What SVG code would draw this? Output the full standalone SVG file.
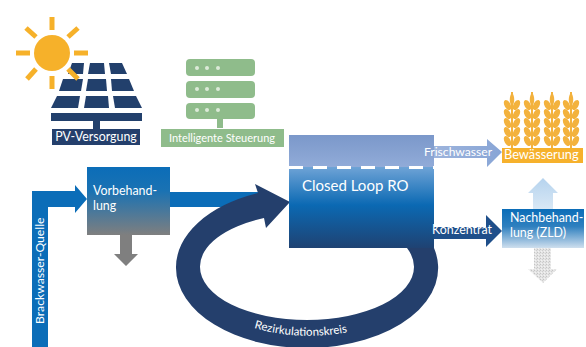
<svg xmlns="http://www.w3.org/2000/svg" xmlns:xlink="http://www.w3.org/1999/xlink" width="586" height="347" viewBox="0 0 586 347">
<style>
text{font-family:"Lato","Open Sans","Liberation Sans",sans-serif;fill:#fff}
.t{font-size:12.400px}
.m{font-size:12.400px}
.l{font-size:15px}
.navy{fill:#243f6c}
.sun{fill:#f6b12c}
.ray{stroke:#f6b12c;stroke-width:5;fill:none}
.grn{fill:#8fbc8b}
.dot{fill:#dcead9}
.wheat{fill:#f3b23e}
</style>
<defs>
<filter id="soft" x="-5%" y="-5%" width="110%" height="110%"><feGaussianBlur stdDeviation="0.6"/></filter>
<linearGradient id="gRO" x1="0" y1="0" x2="0" y2="1">
<stop offset="0" stop-color="#7b98ca"/><stop offset="0.28" stop-color="#91abd8"/><stop offset="0.285" stop-color="#6ea3d6"/><stop offset="0.62" stop-color="#0b69b3"/><stop offset="1" stop-color="#1f4272"/>
</linearGradient>
<linearGradient id="gVor" x1="0" y1="0" x2="0" y2="1">
<stop offset="0" stop-color="#0b6db8"/><stop offset="0.35" stop-color="#1a72b3"/><stop offset="1" stop-color="#7f7f7f"/>
</linearGradient>
<linearGradient id="gNach" x1="0" y1="0" x2="0" y2="1">
<stop offset="0" stop-color="#0b6db8"/><stop offset="0.45" stop-color="#2f80bf"/><stop offset="1" stop-color="#cfdfee"/>
</linearGradient>
<linearGradient id="gFrisch" x1="0" y1="0" x2="1" y2="0">
<stop offset="0" stop-color="#9db4dc"/><stop offset="1" stop-color="#88a5d6"/>
</linearGradient>
<linearGradient id="gUp" x1="0" y1="0" x2="0" y2="1">
<stop offset="0" stop-color="#b5d3ee"/><stop offset="1" stop-color="#d9e8f5"/>
</linearGradient>
<pattern id="speck" width="3" height="3" patternUnits="userSpaceOnUse">
<rect width="3" height="3" fill="#e4e4e4"/><rect x="0" y="0" width="1" height="1" fill="#c4c4c4"/><rect x="2" y="1" width="1" height="1" fill="#cfcfcf"/><rect x="1" y="2" width="1" height="1" fill="#f2f2f2"/>
</pattern>
<g id="stalk">
<path d="M0 0V56" stroke="#f3b23e" stroke-width="2" fill="none"/>
<path class="wheat" d="M0 0C3 5 3 10 0 15C-3 10 -3 5 0 0Z"/>
<g id="pair"><ellipse class="wheat" cx="-4.500" cy="13" rx="3" ry="5.500" transform="rotate(-28 -4.500 13)"/><ellipse class="wheat" cx="4.500" cy="13" rx="3" ry="5.500" transform="rotate(28 4.500 13)"/></g>
<use xlink:href="#pair" href="#pair" y="9"/>
<use xlink:href="#pair" href="#pair" y="18"/>
<use xlink:href="#pair" href="#pair" y="27"/>
<use xlink:href="#pair" href="#pair" y="36"/>
</g>
</defs>
<rect width="586" height="347" fill="#fff"/>

<g id="pv-versorgung">
<g filter="url(#soft)">
<g class="navy">
<polygon points="72,63 84,63 83,74 68,74"/><polygon points="90,63 104,63 105,74 88,74"/><polygon points="109,63 122,63 127,74 111,74"/>
<polygon points="63,79 83,79 81,91 59,91"/><polygon points="88,79 106,79 107,91 86,91"/><polygon points="111,79 129,79 134,91 112,91"/>
<polygon points="57,96 80,96 78,108 51,108"/><polygon points="86,96 108,96 109,108 84,108"/><polygon points="113,96 136,96 142,108 115,108"/>
<rect x="51" y="113" width="91" height="8"/><rect x="93" y="121" width="7" height="9"/>
</g>
<circle class="sun" cx="52" cy="53" r="18"/>
<path class="ray" d="M52 17V30M52 76V89M16 53H30M74 53H88M26 28L36 37M78 28L68 37M27 79L36 69M68 69L78 79"/>
</g>
<rect class="navy" x="52" y="129" width="88" height="16"/>
<text class="t" x="96" y="141" text-anchor="middle">PV-Versorgung</text>
</g>

<g id="intelligente-steuerung">
<g filter="url(#soft)" class="grn">
<rect x="186" y="59" width="69" height="17" rx="4"/><rect x="186" y="81" width="69" height="17" rx="4"/><rect x="186" y="103" width="69" height="16" rx="4"/>
<rect x="217" y="119" width="6" height="9"/>
<g class="dot"><circle cx="197" cy="68" r="2"/><circle cx="207" cy="68" r="2"/><circle cx="218" cy="68" r="2"/><circle cx="197" cy="89" r="2"/><circle cx="207" cy="89" r="2"/><circle cx="218" cy="89" r="2"/><circle cx="197" cy="110" r="2"/><circle cx="207" cy="110" r="2"/><circle cx="218" cy="110" r="2"/></g>
</g>
<rect class="grn" x="161" y="129" width="123" height="18"/>
<text class="t" x="222" y="142" text-anchor="middle" style="font-size:11px">Intelligente Steuerung</text>
</g>

<g id="connectors">
<path id="brackwasser" fill="#0b6db8" d="M32 347V191H75V185L87 199L75 213V207H48V347Z"/>
<path id="zulauf" fill="#0b6db8" d="M170 192H270V207H170Z"/>
<path id="vor-ablauf" fill="#7f7f7f" d="M120 235H132V254H138L126 266L114 254H120Z"/>
<path id="rezirkulation" class="navy" d="M434 248A131 80 0 0 1 307 348A131 80 0 0 1 176 268A131 80 0 0 1 258 193L255 184L290 202L266 228L264 218A107 53 0 0 0 200 267A107 53 0 0 0 307 320A107 53 0 0 0 414 267A107 53 0 0 0 407 248Z"/>
<path id="frischwasser" fill="url(#gFrisch)" d="M434 146H487V139L502 152L487 167V158H434Z"/>
<path id="konzentrat" fill="#1f4f8a" d="M434 227H486V215L502 231L486 247V239H434Z"/>
<path id="nach-oben" fill="url(#gUp)" d="M533 209V193H528L543 178L558 193H553V209Z"/>
<path id="nach-unten" fill="url(#speck)" d="M534 248H551V269H557L543 283L528 269H534Z"/>
</g>

<g id="vorbehandlung">
<rect x="87" y="167" width="83" height="68" fill="url(#gVor)"/>
<text class="m" x="93" y="195">Vorbehand-</text>
<text class="m" x="93" y="210">lung</text>
</g>

<g id="closed-loop-ro">
<rect x="289" y="135" width="145" height="113" fill="url(#gRO)"/>
<path d="M289 167.500H434" stroke="#fff" stroke-width="3" stroke-dasharray="14 10" fill="none"/>
<text class="l" x="302" y="191">Closed Loop RO</text>
</g>

<g id="bewaesserung">
<g filter="url(#soft)">
<use xlink:href="#stalk" href="#stalk" x="512" y="92"/><use xlink:href="#stalk" href="#stalk" x="532" y="92"/><use xlink:href="#stalk" href="#stalk" x="552" y="92"/><use xlink:href="#stalk" href="#stalk" x="571" y="92"/>
</g>
<rect x="502" y="148" width="81" height="15" fill="#f6b12c"/>
<text class="t" x="504" y="158.500" style="font-size:12.800px">Bewässerung</text>
</g>

<g id="nachbehandlung">
<rect x="502" y="209" width="82" height="39" fill="url(#gNach)"/>
<text class="m" x="510" y="222">Nachbehand-</text>
<text class="m" x="510" y="237">lung (ZLD)</text>
</g>

<g id="labels">
<text class="t" x="424" y="156" style="font-size:12.100px">Frischwasser</text>
<text class="t" x="432" y="234">Konzentrat</text>
<text class="t" transform="translate(44 324) rotate(-90)" style="font-size:12.200px">Brackwasser-Quelle</text>
<path id="rezPath" d="M254 328Q307 343 361 329" fill="none"/>
<text style="font-size:11.500px"><textPath xlink:href="#rezPath" href="#rezPath">Rezirkulationskreis</textPath></text>
</g>
</svg>
